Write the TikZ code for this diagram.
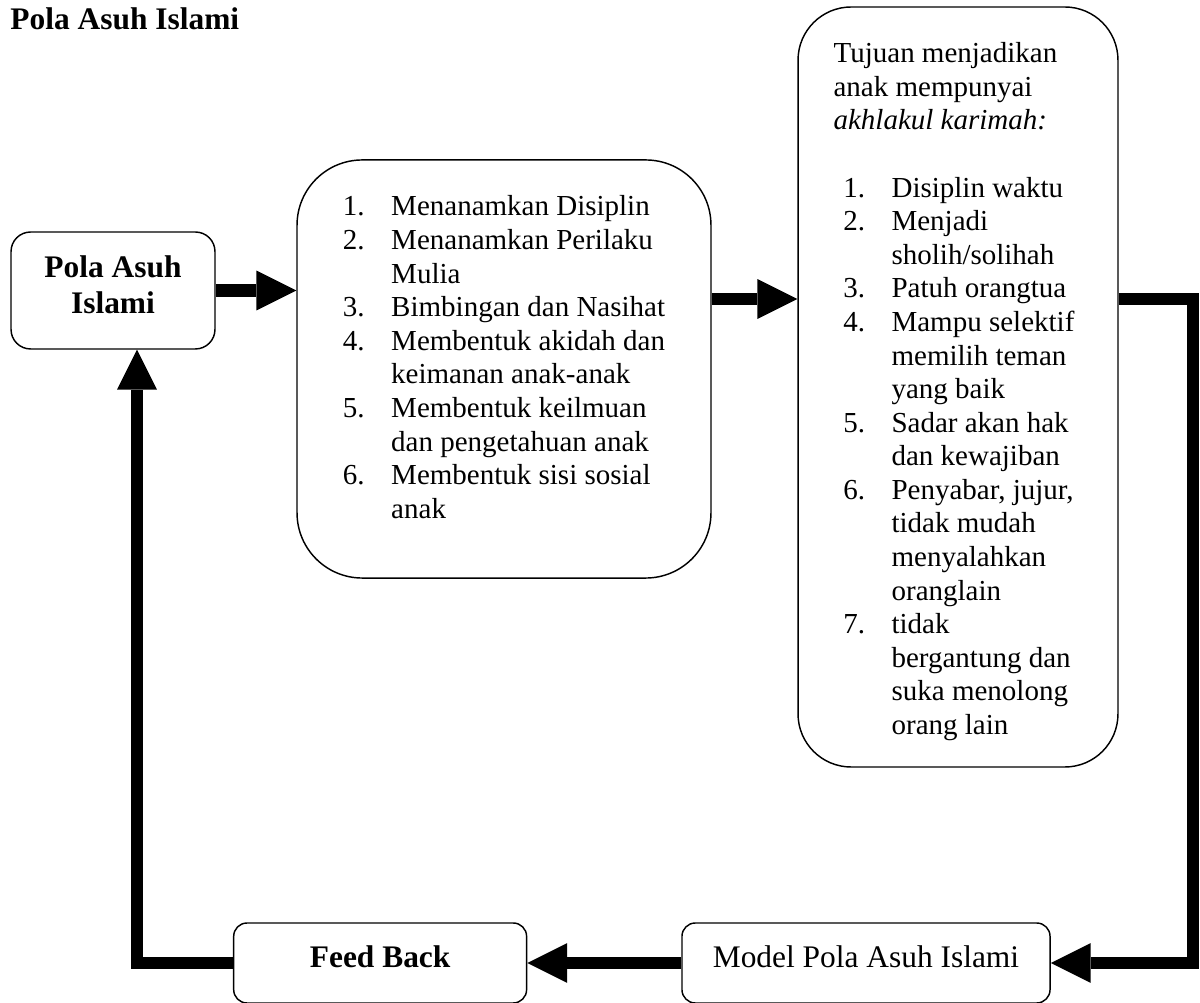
\documentclass[tikz,border=0pt]{standalone}
\usepackage{fontspec}
\setmainfont{Liberation Serif}
\usetikzlibrary{arrows.meta, positioning}
\newcommand{\nr}[1]{\makebox[20pt][l]{#1}}
\newcommand{\nx}{\hspace*{20pt}}
\newcommand{\nrc}[1]{\hspace*{4pt}\nr{#1}}
\newcommand{\nxc}{\hspace*{24pt}}

\begin{document}
\begin{tikzpicture}[x=0.4138pt, y=-0.4138pt,
    >={Triangle[length=16.5pt, width=16.5pt, line width=0pt]},
    box/.style={draw, line width=0.6pt, rounded corners=#1, inner sep=0pt},
    flow/.style={line width=5pt, line join=miter},
    txt/.style={font=\fontsize{12}{13.9}\selectfont},
    big/.style={font=\fontsize{13}{14.9}\selectfont},
    bigbold/.style={font=\fontsize{13}{14.9}\selectfont\bfseries}]
  \useasboundingbox (0,0) rectangle (1200,1003);

  \node[bigbold, anchor=base west, inner sep=0pt] (title) at (10,30) {Pola Asuh Islami};

  \node[box=8.1pt, bigbold, minimum width=84.4pt, minimum height=48.4pt] (A) at (113,290.5)
    {\begin{tabular}{@{}c@{}}Pola Asuh\\Islami\\[2pt]\end{tabular}};

  \node[box=27pt, txt, minimum width=171.3pt, minimum height=173pt] (B) at (504,369)
    {\begin{tabular}{@{}l@{}}
      \nr{1.}Menanamkan Disiplin\\
      \nr{2.}Menanamkan Perilaku\\
      \nx Mulia\\
      \nr{3.}Bimbingan dan Nasihat\\
      \nr{4.}Membentuk akidah dan\\
      \nx keimanan anak-anak\\
      \nr{5.}Membentuk keilmuan\\
      \nx dan pengetahuan anak\\
      \nr{6.}Membentuk sisi sosial\\
      \nx anak\\[7.1pt]
    \end{tabular}};

  \node[box=22pt, txt, minimum width=132.4pt, minimum height=314.5pt] (C) at (958,387)
    {\begin{tabular}{@{}l@{\hspace{3.3pt}}}
      \rule{0pt}{13.8pt}Tujuan menjadikan\\
      anak mempunyai\\
      \textit{akhlakul karimah:}\\[13.9pt]
      \nrc{1.}Disiplin waktu\\
      \nrc{2.}Menjadi\\
      \nxc sholih/solihah\\
      \nrc{3.}Patuh orangtua\\
      \nrc{4.}Mampu selektif\\
      \nxc memilih teman\\
      \nxc yang baik\\
      \nrc{5.}Sadar akan hak\\
      \nxc dan kewajiban\\
      \nrc{6.}Penyabar, jujur,\\
      \nxc tidak mudah\\
      \nxc menyalahkan\\
      \nxc oranglain\\
      \nrc{7.}tidak\\
      \nxc bergantung dan\\
      \nxc suka menolong\\
      \nxc orang lain
    \end{tabular}};

  \node[box=5.5pt, big, minimum width=152.3pt, minimum height=33.1pt, text depth=5pt] (M) at (866,963) {Model Pola Asuh Islami};
  \node[box=5.5pt, bigbold, minimum width=121.2pt, minimum height=33.1pt, text depth=5pt, left=63.7pt of M] (F) {Feed Back};

  \coordinate (r1) at (1193,299);
  \coordinate (l1) at (137,963);

  \draw[flow, ->] (A.east) -- (A.east -| B.west);
  \draw[flow, ->] (B.east |- r1) -- (C.west |- r1);
  \draw[flow, ->] (C.east |- r1) -- (r1) |- (M.east);
  \draw[flow, ->] (M.west) -- (F.east);
  \draw[flow, ->] (F.west) -- (l1) -- (l1 |- A.south);
\end{tikzpicture}
\end{document}
